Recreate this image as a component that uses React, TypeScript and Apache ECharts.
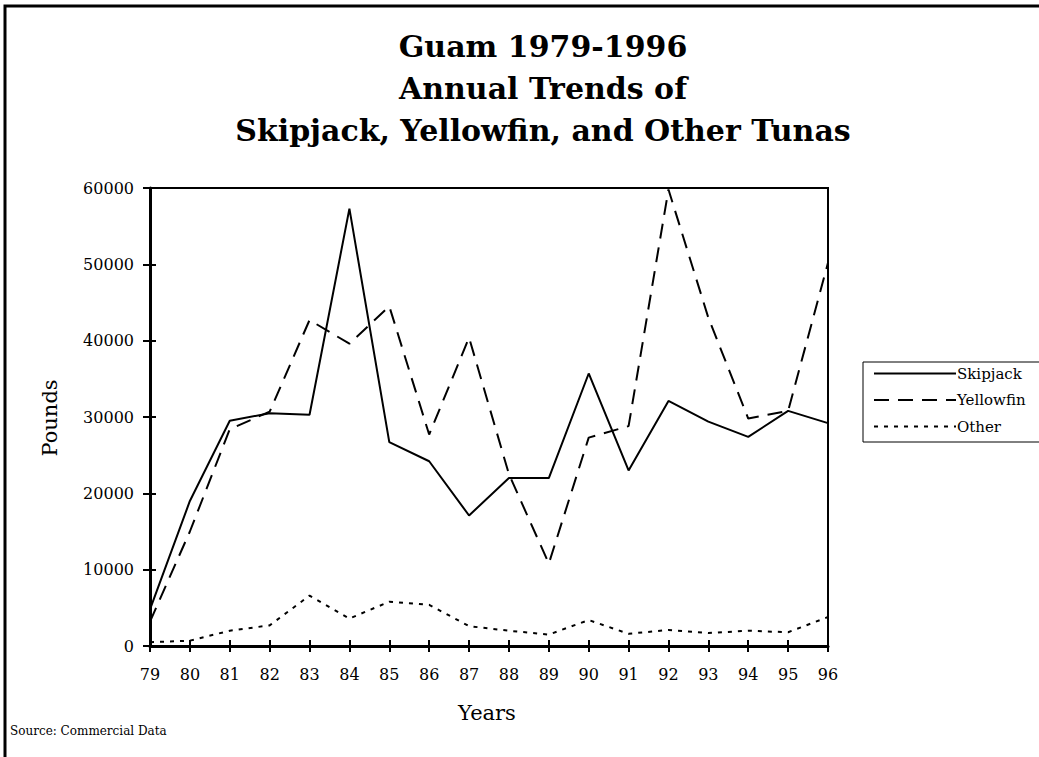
import React, { useEffect, useRef } from "react";
import * as echarts from "echarts";

const years = ["79","80","81","82","83","84","85","86","87","88","89","90","91","92","93","94","95","96"];
const skipjack = [4800,19000,29500,30500,30300,57300,26700,24200,17100,22000,22000,35700,23000,32100,29400,27400,30800,29200];
const yellowfin = [3200,15000,28400,30700,42700,39600,44500,27700,40400,22500,10800,27300,28800,59800,43000,29800,30800,50200];
const other = [500,700,2000,2700,6600,3600,5800,5400,2600,2000,1500,3400,1600,2100,1700,2000,1800,3800];
const yTicks = { min: 0, max: 60000, interval: 10000 };
const titleLines = ["Guam 1979-1996", "Annual Trends of", "Skipjack, Yellowfin, and Other Tunas"];

const SERIF = "'DejaVu Serif', serif";
const TITLE_FONT = "'DejaVu Serif', serif";

export default function App() {
  const ref = useRef<HTMLDivElement>(null);
  useEffect(() => {
    document.body.style.margin = "0";
    const chart = echarts.init(ref.current!, null, { renderer: "svg" });
    const grid = { left: 150, top: 188, width: 678, height: 458 };
    const baseX = {
      type: "category",
      data: years,
      boundaryGap: false,
      gridIndex: 0,
      splitLine: { show: false },
    };
    const baseY = {
      type: "value",
      min: yTicks.min,
      max: yTicks.max,
      interval: yTicks.interval,
      gridIndex: 0,
      splitLine: { show: false },
    };
    chart.setOption({
      animation: false,
      grid: { ...grid, show: true, borderColor: "#000", borderWidth: 2, backgroundColor: "transparent" },
      xAxis: [
        {
          ...baseX,
          position: "bottom",
          axisLine: { show: true, lineStyle: { color: "#000", width: 3 } },
          axisTick: { show: true, inside: false, length: 6, lineStyle: { color: "#000", width: 2 } },
          axisLabel: { color: "#000", fontFamily: SERIF, fontSize: 16, margin: 20, interval: 0 },
        },
        {
          ...baseX,
          position: "top",
          offset: -grid.height,
          axisLine: { show: false },
          axisTick: { show: true, inside: false, length: 6, lineStyle: { color: "#000", width: 2 } },
          axisLabel: { show: false },
        },
      ],
      yAxis: [
        {
          ...baseY,
          position: "left",
          axisLine: { show: true, lineStyle: { color: "#000", width: 3 } },
          axisTick: { show: true, inside: false, length: 7, lineStyle: { color: "#000", width: 2 } },
          axisLabel: { color: "#000", fontFamily: SERIF, fontSize: 16, margin: 16, formatter: (v: number) => String(v) },
        },
        {
          ...baseY,
          position: "right",
          offset: -grid.width,
          axisLine: { show: false },
          axisTick: { show: true, inside: false, length: 6, lineStyle: { color: "#000", width: 2 } },
          axisLabel: { show: false },
        },
      ],
      legend: {
        orient: "vertical",
        left: 863,
        top: 362,
        padding: [4, 40, 8, 10],
        itemWidth: 82,
        itemHeight: 14,
        itemGap: 11.5,
        borderColor: "#000",
        borderWidth: 1,
        itemStyle: { opacity: 0 },
        textStyle: { color: "#000", fontFamily: SERIF, fontSize: 15, padding: [0, 0, 0, -4] },
        data: ["Skipjack", "Yellowfin", "Other"],
      },
      series: [
        {
          name: "Skipjack",
          type: "line",
          data: skipjack,
          symbol: "none",
          itemStyle: { color: "#000" },
          lineStyle: { color: "#000", width: 2, type: "solid" },
        },
        {
          name: "Yellowfin",
          type: "line",
          data: yellowfin,
          symbol: "none",
          itemStyle: { color: "#000" },
          lineStyle: { color: "#000", width: 2, type: [15, 9] },
        },
        {
          name: "Other",
          type: "line",
          data: other,
          symbol: "none",
          itemStyle: { color: "#000" },
          lineStyle: { color: "#000", width: 2, type: [4, 6] },
        },
      ],
      graphic: [
        {
          type: "rect",
          shape: { x: 5, y: 6, width: 1100, height: 800 },
          style: { fill: "none", stroke: "#000", lineWidth: 3 },
          silent: true,
        },
        ...titleLines.map((t, i) => ({
          type: "text",
          x: 543,
          y: 46 + i * 42,
          style: {
            text: t,
            fontFamily: TITLE_FONT,
            fontWeight: "bold",
            fontSize: 30,
            fill: "#000",
            textAlign: "center",
            textVerticalAlign: "middle",
          },
        })),
        {
          type: "text",
          x: 50,
          y: 418,
          rotation: Math.PI / 2,
          style: {
            text: "Pounds",
            fontFamily: SERIF,
            fontSize: 21,
            fill: "#000",
            textAlign: "center",
            textVerticalAlign: "middle",
          },
        },
        {
          type: "text",
          x: 487,
          y: 713,
          style: {
            text: "Years",
            fontFamily: SERIF,
            fontSize: 21,
            fill: "#000",
            textAlign: "center",
            textVerticalAlign: "middle",
          },
        },
        {
          type: "text",
          x: 10,
          y: 731,
          style: {
            text: "Source: Commercial Data",
            fontFamily: SERIF,
            fontSize: 12,
            fill: "#000",
            textAlign: "left",
            textVerticalAlign: "middle",
          },
        },
      ],
    });
    return () => chart.dispose();
  }, []);
  return (
    <div
      ref={ref}
      style={{ position: "fixed", left: 0, top: 0, width: 1039, height: 757, background: "#fff" }}
    />
  );
}
